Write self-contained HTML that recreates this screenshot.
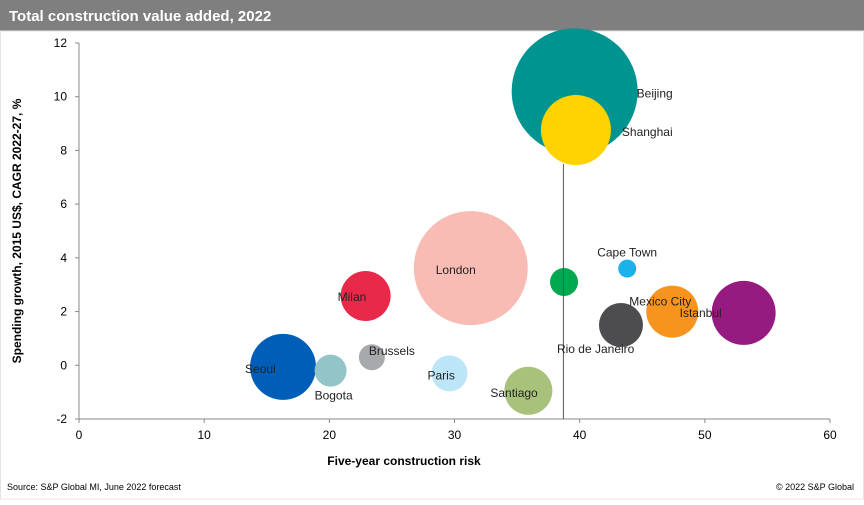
<!DOCTYPE html>
<html><head><meta charset="utf-8"><style>
body{margin:0;width:864px;height:500px;background:#fff;font-family:"Liberation Sans",Arial,sans-serif;overflow:hidden}
</style></head><body>
<svg id="c" width="864" height="500" xmlns="http://www.w3.org/2000/svg">
<rect x="0" y="0" width="864" height="31" fill="#7f7f7f"/>
<text x="9" y="21" fill="#fff" font-size="15" font-weight="bold">Total construction value added, 2022</text>
<rect x="0.5" y="31" width="863" height="468" fill="none" stroke="#e4e4e4"/>
<g id="axes"></g><g id="marks"></g>
<text x="404" y="465" font-size="12" font-weight="bold" text-anchor="middle">Five-year construction  risk</text>
<text transform="translate(21,231) rotate(-90)" font-size="12" font-weight="bold" text-anchor="middle">Spending growth, 2015 US$, CAGR 2022-27,  %</text>
<text x="7" y="490" font-size="9">Source: S&amp;P Global MI, June 2022 forecast</text>
<text x="854" y="490" font-size="9" text-anchor="end">© 2022 S&amp;P Global</text>
</svg>
<script>
const cities=["Beijing","Shanghai","London","Other","Cape Town","Mexico City","Istanbul","Rio de Janeiro","Milan","Seoul","Bogota","Brussels","Paris","Santiago"];
const risk=[39.6,39.7,31.3,38.75,43.8,47.4,53.1,43.3,22.9,16.3,20.1,23.4,29.6,35.9];
const growth=[10.2,8.76,3.62,3.1,3.6,2.0,1.95,1.5,2.58,-0.06,-0.2,0.3,-0.3,-0.95];
const size=[63,35,57,14,9,26,32,22,25,33,16,13,18,24];
const colors=["#009490","#ffd200","#f8bcb5","#00a94f","#1ab2e8","#f7941d","#951b81","#4d4d4f","#e8294a","#005eb8","#93c5c8","#a7a9ac","#bde5f8","#a8c17b"];
const xTicks=[0,10,20,30,40,50,60];
const yTicks=[-2,0,2,4,6,8,10,12];
const labelOff=[[62,6,"start"],[46,6,"start"],[-15,6,"middle"],[0,0,"none"],[-30,-12,"start"],[-43,-6,"start"],[-64,4,"start"],[-64,28,"start"],[-28,5,"start"],[-38,6,"start"],[-16,29,"start"],[-3,-2,"start"],[-22,6,"start"],[-38,6,"start"]];
const X=v=>79+v*(830-79)/60, Y=v=>419-(v+2)*(419-43)/14;
const NS="http://www.w3.org/2000/svg";
function mk(t,a,p){const e=document.createElementNS(NS,t);for(const k in a)e.setAttribute(k,a[k]);p.appendChild(e);return e;}
const ax=document.getElementById('axes'),mg=document.getElementById('marks');
let l=mk('line',{x1:X(0),x2:X(60),y1:Y(-2),y2:Y(-2),stroke:'#888'},ax);


l=mk('line',{x1:X(0),x2:X(0),y1:Y(-2),y2:Y(12),stroke:'#888'},ax);


xTicks.forEach(v=>{const t=mk('text',{x:X(v),y:Y(-2)+20,'font-size':12,'text-anchor':'middle'},ax);t.textContent=v;


mk('line',{x1:X(v),x2:X(v),y1:Y(-2),y2:Y(-2)+4,stroke:'#888'},ax);});
yTicks.forEach(v=>{const t=mk('text',{x:X(0)-12,y:Y(v)+4,'font-size':12,'text-anchor':'end'},ax);t.textContent=v;


mk('line',{x1:X(0)-4,x2:X(0),y1:Y(v),y2:Y(v),stroke:'#888'},ax);});
cities.forEach((c,i)=>{const b=mk('circle',{cx:X(risk[i]),cy:Y(growth[i]),r:size[i],fill:colors[i]},mg);

});
const dl=mk('line',{x1:X(38.7),x2:X(38.7),y1:Y(-2),y2:Y(7.5),stroke:'#555'},mg);


cities.forEach((c,i)=>{const o=labelOff[i];if(o[2]==="none")return;
const t=mk('text',{x:X(risk[i])+o[0],y:Y(growth[i])+o[1],'font-size':12,fill:'#222','text-anchor':o[2]},mg);t.textContent=c;

});
</script>
</body></html>
